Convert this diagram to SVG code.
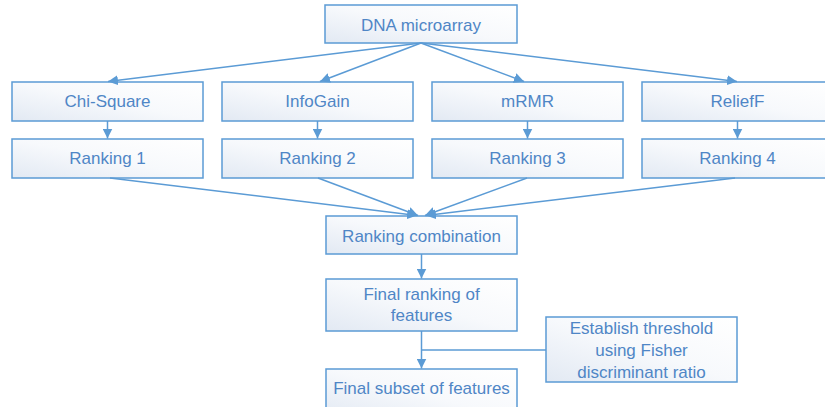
<svg xmlns="http://www.w3.org/2000/svg" width="825" height="407" viewBox="0 0 825 407">
<style>
.box{fill:url(#g);stroke:#5b9bd5;stroke-width:1.5}
.t{font-family:"Liberation Sans",Arial,sans-serif;font-size:17px;fill:#4f86c6;text-anchor:middle}
.c{stroke:#5b9bd5;stroke-width:1.5;fill:none}
</style>
<defs>
<linearGradient id="g" x1="1" y1="0" x2="0" y2="1">
<stop offset="0" stop-color="#ffffff"/>
<stop offset="0.5" stop-color="#f7f9fc"/>
<stop offset="1" stop-color="#e2e9f3"/>
</linearGradient>
<marker id="a" viewBox="0 0 10 10" refX="10" refY="5" markerWidth="10" markerHeight="10" markerUnits="userSpaceOnUse" orient="auto">
<path d="M0,0 L10,5 L0,10 Z" fill="#5b9bd5"/>
</marker>
</defs>
<rect width="825" height="407" fill="#ffffff"/>
<g id="n-dna"><rect class="box" x="325" y="5" width="192" height="38"/><text class="t" x="421" y="31">DNA microarray</text></g>
<g id="n-chi"><rect class="box" x="12" y="82" width="191" height="39"/><text class="t" x="107.5" y="107">Chi-Square</text></g>
<g id="n-info"><rect class="box" x="222" y="82" width="191" height="39"/><text class="t" x="317.5" y="107">InfoGain</text></g>
<g id="n-mrmr"><rect class="box" x="432" y="82" width="191" height="39"/><text class="t" x="527.5" y="107">mRMR</text></g>
<g id="n-relief"><rect class="box" x="642" y="82" width="191" height="39"/><text class="t" x="737.5" y="107">ReliefF</text></g>
<g id="n-r1"><rect class="box" x="12" y="139" width="191" height="39"/><text class="t" x="107.5" y="164">Ranking 1</text></g>
<g id="n-r2"><rect class="box" x="222" y="139" width="191" height="39"/><text class="t" x="317.5" y="164">Ranking 2</text></g>
<g id="n-r3"><rect class="box" x="432" y="139" width="191" height="39"/><text class="t" x="527.5" y="164">Ranking 3</text></g>
<g id="n-r4"><rect class="box" x="642" y="139" width="191" height="39"/><text class="t" x="737.5" y="164">Ranking 4</text></g>
<g id="n-comb"><rect class="box" x="326" y="216" width="191" height="38"/><text class="t" x="421.5" y="241.5">Ranking combination</text></g>
<g id="n-final"><rect class="box" x="326" y="279" width="191" height="52"/><text class="t" x="421.5" y="300">Final ranking of</text><text class="t" x="421.5" y="321">features</text></g>
<g id="n-thr"><rect class="box" x="546" y="317" width="191" height="65"/><text class="t" x="641.5" y="334">Establish threshold</text><text class="t" x="641.5" y="356">using Fisher</text><text class="t" x="641.5" y="378">discriminant ratio</text></g>
<g id="n-subset"><rect class="box" x="326" y="369" width="191" height="50"/><text class="t" x="421.5" y="394">Final subset of features</text></g>
<g id="connectors">
<line class="c" x1="421" y1="43" x2="108" y2="81.5" marker-end="url(#a)"/>
<line class="c" x1="421" y1="43" x2="320" y2="81.5" marker-end="url(#a)"/>
<line class="c" x1="421" y1="43" x2="524" y2="81.5" marker-end="url(#a)"/>
<line class="c" x1="421" y1="43" x2="737" y2="81.5" marker-end="url(#a)"/>
<line class="c" x1="107.5" y1="121" x2="107.5" y2="138.5" marker-end="url(#a)"/>
<line class="c" x1="317.5" y1="121" x2="317.5" y2="138.5" marker-end="url(#a)"/>
<line class="c" x1="527.5" y1="121" x2="527.5" y2="138.5" marker-end="url(#a)"/>
<line class="c" x1="737.5" y1="121" x2="737.5" y2="138.5" marker-end="url(#a)"/>
<line class="c" x1="110" y1="178" x2="417" y2="215.5" marker-end="url(#a)"/>
<line class="c" x1="318" y1="178" x2="418" y2="215.5" marker-end="url(#a)"/>
<line class="c" x1="527" y1="178" x2="425" y2="215.5" marker-end="url(#a)"/>
<line class="c" x1="735" y1="178" x2="426" y2="215.5" marker-end="url(#a)"/>
<line class="c" x1="421.5" y1="254" x2="421.5" y2="278.5" marker-end="url(#a)"/>
<line class="c" x1="421.5" y1="331" x2="421.5" y2="368.5" marker-end="url(#a)"/>
<line class="c" x1="546" y1="350" x2="421.5" y2="350"/>
</g>
</svg>
